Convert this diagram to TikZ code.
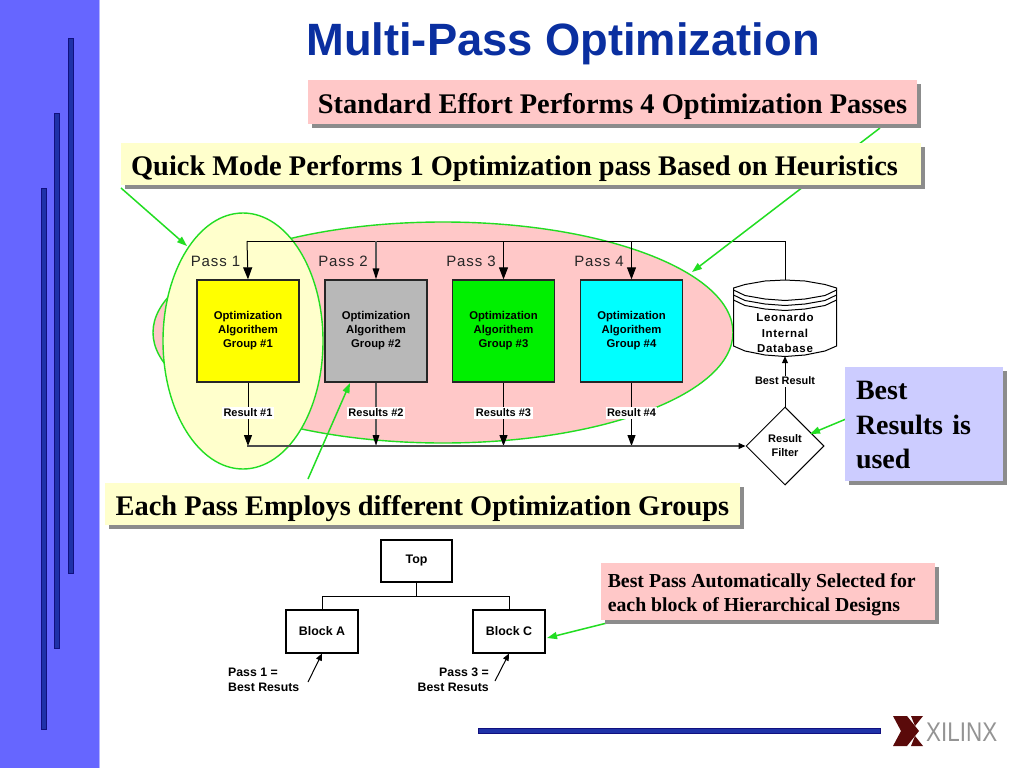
\documentclass[tikz,border=0pt]{standalone}
\usepackage{fontspec}
\setmainfont{Liberation Sans}
\newfontfamily\serifb{Liberation Serif}[BoldFont={Liberation Serif Bold}]
\newfontfamily\spaced{Liberation Sans}[LetterSpace=6,BoldFont={Liberation Sans Bold}]
\usetikzlibrary{arrows.meta,shadows,shapes.geometric}
\definecolor{sidebg}{HTML}{6666FF}
\definecolor{barfill}{HTML}{1F32A8}
\definecolor{bardraw}{HTML}{10107F}
\definecolor{titleblue}{HTML}{0A2FA0}
\definecolor{pinkbox}{HTML}{FFC8C8}
\definecolor{yellowbox}{HTML}{FFFFCC}
\definecolor{lilacbox}{HTML}{CCCCFF}
\definecolor{callout}{HTML}{22DD22}
\definecolor{maroon}{HTML}{5A0A0A}
\definecolor{algoyellow}{HTML}{FFFF00}
\definecolor{algogray}{HTML}{B8B8B8}
\definecolor{algogreen}{HTML}{00F000}
\definecolor{algocyan}{HTML}{00FFFF}
\tikzset{
  x=1pt,y=-1pt,
  banner/.style={inner sep=0pt,outer sep=0pt,font=\serifb\bfseries\fontsize{28.4}{34}\selectfont,
    drop shadow={shadow xshift=3.5pt,shadow yshift=-3.5pt,fill=black!45,opacity=1}},
  bannerline/.style={banner,text height=24pt,text depth=2pt},
  sidebar/.style={fill=barfill,draw=bardraw,line width=1pt},
  algo/.style={draw=black!85,line width=1.3pt,minimum width=102,minimum height=102,inner sep=0pt,align=center,
    font=\bfseries\fontsize{11.3}{14}\selectfont},
  passlabel/.style={font=\spaced\fontsize{15}{16}\selectfont,text=black!85,inner sep=0pt},
  reslabel/.style={fill=white,inner sep=1.5pt,font=\bfseries\fontsize{11}{12}\selectfont},
  plain/.style={draw=black,line width=1.1pt,fill=white,inner sep=0pt,font=\bfseries\fontsize{12.4}{12}\selectfont},
  small/.style={inner sep=0pt,font=\bfseries\fontsize{12.3}{15}\selectfont},
  flow/.style={line width=1pt,draw=black},
  flowtip/.style={flow,-{Triangle[length=12pt,width=9pt]}},
  flowgray/.style={flowtip,line width=1.6pt,draw=black!65,-{Triangle[length=11pt,width=6.5pt,color=black]}},
  smalltip/.style={flow,-{Triangle[length=7pt,width=6pt]}},
  calloutline/.style={draw=callout,line width=1.5pt,-{Triangle[length=10pt,width=7pt]}},
  lobe/.style={draw=callout,line width=1.4pt},
}
\begin{document}
\begin{tikzpicture}
\useasboundingbox (0,0) rectangle (1024,768);
\fill[white] (0,0) rectangle (1024,768);
% sidebar
\fill[sidebg] (0,0) rectangle (99,768);
\fill[sidebg!50] (99,0) rectangle (100,768);
\draw[sidebar] (41.5,188.5) rectangle (46.5,729.5);
\draw[sidebar] (54.5,113.5) rectangle (59.5,648.5);
\draw[sidebar] (68,38.5) rectangle (73,573.5);
\draw[sidebar] (478.5,728.5) rectangle (880.5,733.5);
% title
\node[inner sep=0pt,text=titleblue,font=\bfseries\fontsize{45.3}{50}\selectfont] (title) at (563,44) {Multi-Pass Optimization};
% lobes
\draw[lobe,fill=pinkbox] (443,332.5) ellipse [x radius=290,y radius=110.5];
\draw[lobe,fill=yellowbox] (243,341) ellipse [x radius=80,y radius=128];
% passes
\coordinate (topline) at (247,241);
\node[algo,fill=algoyellow] (g1) at (248,331) {Optimization\\Algorithem\\Group \#1};
\node[algo,fill=algogray] (g2) at (376,331) {Optimization\\Algorithem\\Group \#2};
\node[algo,fill=algogreen] (g3) at (503.5,331) {Optimization\\Algorithem\\Group \#3};
\node[algo,fill=algocyan] (g4) at (631.5,331) {Optimization\\Algorithem\\Group \#4};
\node[passlabel] (p1) at (215.5,261) {Pass 1};
\node[passlabel] (p2) at (343,261) {Pass 2};
\node[passlabel] (p3) at (471,261) {Pass 3};
\node[passlabel] (p4) at (599,261) {Pass 4};
% database
\node[minimum width=103,minimum height=76,inner sep=0pt] (db) at (785,318) {};
\draw[line width=1pt,fill=white]
  (733.5,292) -- (733.5,346) -- (745,351) -- (765,355) -- (785,356.5) -- (805,355) -- (825,351) -- (836.5,346) -- (836.5,292)
  -- (836.5,288) -- (825,284.5) -- (805,281) -- (785,280) -- (765,281) -- (745,284.5) -- (733.5,288) -- cycle;
\draw[line width=1pt] (733.5,290) -- (745,295.5) -- (765,299) -- (785,300.5) -- (805,299) -- (825,295.5) -- (836.5,290);
\draw[line width=1pt] (733.5,295) -- (745,300.5) -- (765,304) -- (785,305.5) -- (805,304) -- (825,300.5) -- (836.5,295);
\draw[line width=1pt] (733.5,300) -- (745,305.5) -- (765,309) -- (785,310.5) -- (805,309) -- (825,305.5) -- (836.5,300);
\node[inner sep=0pt,align=center,font=\spaced\bfseries\fontsize{11.5}{15.5}\selectfont] (dbtext) at (785,333) {Leonardo\\Internal\\Database};
% filter
\node[diamond,aspect=1,draw=black,line width=1pt,fill=white,minimum width=78,minimum height=78,inner sep=0pt,align=center,font=\bfseries\fontsize{11}{14}\selectfont] (filter) at (785,446) {Result\\Filter};
% flow lines
\draw[flow] (db.north) -- (785,241) -- (topline);
\draw[flowtip] (topline) -- (g1.north);
\draw[flowgray] (g2.north |- topline) -- (g2.north);
\draw[flowtip] (g3.north |- topline) -- (g3.north);
\draw[flowtip] (g4.north |- topline) -- (g4.north);
\coordinate (botline) at (247,446);
\draw[flowtip,-{Triangle[length=11pt,width=8pt]}] (g1.south) -- (g1.south |- botline);
\draw[flowgray] (g2.south) -- (g2.south |- botline);
\draw[flowtip,-{Triangle[length=11pt,width=8pt]}] (g3.south) -- (g3.south |- botline);
\draw[flowtip,-{Triangle[length=11pt,width=8pt]}] (g4.south) -- (g4.south |- botline);
\draw[smalltip,line width=1.2pt,draw=black!70,-{Triangle[length=7pt,width=6pt,color=black]}] (botline) -- (filter.west);
\draw[smalltip] (filter.north) -- (db.south);
\node[reslabel] (r1) at (248,413) {Result \#1};
\node[reslabel] (r2) at (376,413) {Results \#2};
\node[reslabel] (r3) at (503.5,413) {Results \#3};
\node[reslabel] (r4) at (631.5,413) {Result \#4};
\node[fill=white,inner sep=1.5pt,font=\bfseries\fontsize{10.9}{12}\selectfont] (best) at (785,381) {Best Result};
% callouts
\coordinate (c1) at (880,128);
\coordinate (c1e) at (692,272);
\coordinate (c2) at (121,188);
\coordinate (c2e) at (187,246);
\coordinate (c3) at (308,479);
\coordinate (c3e) at (350,383);
\coordinate (c4) at (846,419);
\coordinate (c4e) at (810,434);
\coordinate (c5) at (607,623);
\coordinate (c5e) at (547,638);
\draw[calloutline] (c1) -- (c1e);
\draw[calloutline] (c2) -- (c2e);
\draw[calloutline] (c3) -- (c3e);
\draw[calloutline] (c4) -- (c4e);
\draw[calloutline] (c5) -- (c5e);
% banners
\node[bannerline,fill=pinkbox,minimum width=609,minimum height=44] (std) at (612.5,102) {Standard Effort Performs 4 Optimization Passes};
\node[bannerline,fill=yellowbox,minimum width=800,minimum height=42] (quick) at (521,164) {Quick Mode Performs 1 Optimization pass Based on Heuristics\hspace*{13pt}};
\node[bannerline,fill=yellowbox,minimum width=635,minimum height=42] (each) at (422.5,504) {Each Pass Employs different Optimization Groups};
\node[banner,fill=lilacbox,minimum width=158,minimum height=114,text width=136,align=left,font=\serifb\bfseries\fontsize{28}{34.5}\selectfont] (bestres) at (924,424) {\rule{0pt}{21pt}Best\\Results is\\used};
\node[banner,fill=pinkbox,minimum width=334,minimum height=57,align=left,font=\serifb\bfseries\fontsize{19.8}{24}\selectfont] (auto) at (768,591.5) {\rule{0pt}{21pt}Best Pass Automatically Selected for\hspace*{12.5pt}\\each block of Hierarchical Designs};
% hierarchy
\node[plain,minimum width=71,minimum height=42] (top) at (416.5,561) {Top};
\node[plain,minimum width=72,minimum height=43] (a) at (322,631.5) {Block A};
\node[plain,minimum width=72,minimum height=43] (c) at (509,631.5) {Block C};
\coordinate (mid) at (416.5,596);
\draw[flow] (top.south) -- (mid);
\draw[flow] (a.north) -- (a.north |- mid) -- (c.north |- mid) -- (c.north);
\node[small,anchor=west,align=left] (la) at (228,680) {Pass 1 =\\Best Resuts};
\node[small,anchor=east,align=right] (lc) at (489,680) {Pass 3 =\\Best Resuts};
\coordinate (ta) at (308,682);
\coordinate (tc) at (495,681);
\draw[smalltip] (ta) -- (a.south);
\draw[smalltip] (tc) -- (c.south);
% logo
\fill[maroon] (893,716) -- (907,716) -- (919,731) -- (907,746) -- (893,746) -- (901,731) -- cycle;
\fill[maroon] (911,716) -- (923,716) -- (915,726) -- cycle;
\fill[maroon] (911,746) -- (923,746) -- (915,736) -- cycle;
\node[inner sep=0pt,text=black!42,anchor=west] (xil) at (926,732.5) {\scalebox{0.83}[1]{\fontsize{27}{27}\selectfont XILINX}};
\end{tikzpicture}
\end{document}
